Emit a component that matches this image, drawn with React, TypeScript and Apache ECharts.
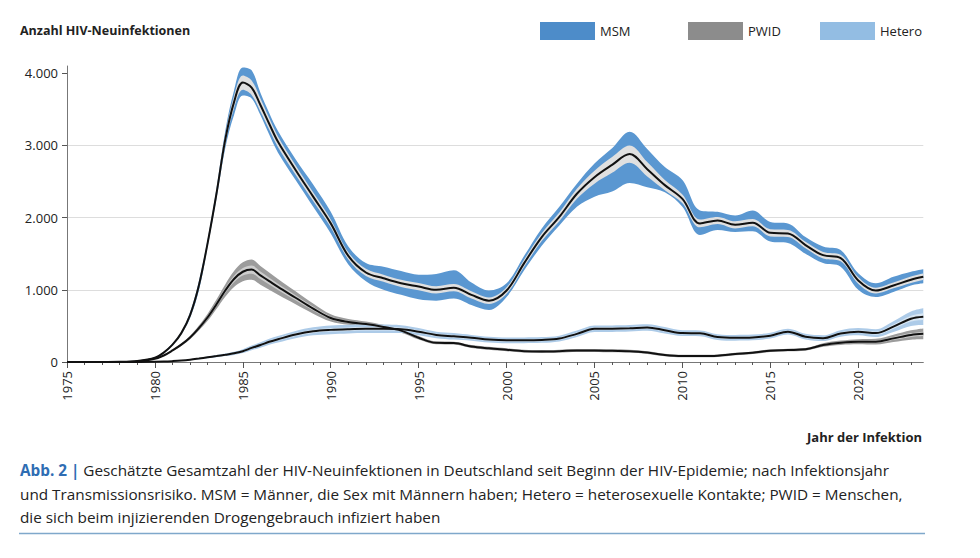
import React, { useEffect, useRef } from "react";
import * as echarts from "echarts";

// x positions (year of infection)
const years = [
  1975, 1976, 1977, 1978, 1979,
  1980, 1980.5, 1981, 1981.5, 1982, 1982.5, 1983, 1983.5, 1984, 1984.5, 1985, 1985.5, 1986, 1986.5, 1987,
  1988, 1989, 1990, 1991, 1992, 1993, 1994, 1995, 1996, 1997, 1998, 1999, 2000, 2001, 2002, 2003, 2004,
  2005, 2006, 2007, 2008, 2009, 2010, 2011, 2012, 2013, 2014, 2015, 2016, 2017, 2018, 2019, 2020, 2021,
  2022, 2023, 2023.7,
];

// MSM
const msmMid = [
  0, 0, 0, 2, 15,
  60, 130, 240, 400, 650, 1060, 1650, 2330, 3080, 3600, 3870, 3800, 3560, 3300, 3050,
  2660, 2290, 1920, 1470, 1240, 1160, 1090, 1045, 1000, 1030, 930, 850, 990, 1370, 1730, 2010, 2330,
  2560, 2730, 2880, 2670, 2450, 2260, 1920, 1960, 1900, 1930, 1790, 1780, 1620, 1480, 1440, 1130, 990,
  1060, 1140, 1180,
];
const msmLow = [
  0, 0, 0, 1, 12,
  55, 120, 225, 380, 610, 990, 1600, 2260, 2960, 3420, 3690, 3650, 3420, 3150, 2900,
  2520, 2150, 1780, 1350, 1120, 1000, 930, 870, 850, 880, 790, 720, 900, 1270, 1610, 1890, 2150,
  2290, 2360, 2480, 2420, 2350, 2150, 1760, 1830, 1800, 1810, 1670, 1650, 1500, 1370, 1320, 1000, 900,
  970, 1060, 1090,
];
const msmHigh = [
  0, 0, 0, 3, 18,
  65, 140, 255, 420, 690, 1120, 1700, 2400, 3200, 3760, 4080, 4040, 3730, 3450, 3200,
  2810, 2460, 2080, 1600, 1370, 1320, 1260, 1210, 1220, 1270, 1100, 990, 1090, 1470, 1850, 2150, 2470,
  2750, 2960, 3190, 2950, 2700, 2520, 2100, 2080, 2030, 2100, 1940, 1920, 1730, 1600, 1550, 1230, 1090,
  1180, 1250, 1285,
];
const msmCi = [
  0, 0, 0, 0, 2,
  5, 8, 12, 18, 25, 35, 45, 55, 70, 85, 100, 100, 90, 80, 75,
  65, 60, 55, 50, 50, 50, 50, 50, 50, 50, 50, 45, 45, 50, 55, 60, 70,
  90, 110, 120, 100, 70, 60, 55, 50, 50, 50, 50, 50, 45, 45, 45, 45, 40,
  40, 45, 45,
];

// PWID
const pwidMid = [
  0, 0, 0, 1, 8,
  45, 90, 160, 240, 340, 470, 620, 800, 990, 1150, 1250, 1280, 1200, 1120, 1040,
  890, 740, 610, 555, 525, 485, 435, 335, 265, 262, 215, 190, 170, 150, 145, 150, 160,
  160, 155, 150, 130, 97, 83, 83, 87, 110, 128, 157, 166, 175, 235, 267, 281, 281,
  327, 374, 390,
];
const pwidSpread = [
  0, 0, 0, 0, 1,
  4, 8, 12, 18, 25, 35, 50, 65, 85, 110, 130, 140, 130, 120, 110,
  90, 70, 50, 40, 35, 30, 30, 25, 20, 20, 20, 20, 20, 20, 20, 20, 20,
  20, 20, 20, 20, 18, 18, 18, 18, 18, 18, 18, 18, 18, 25, 30, 35, 40,
  50, 65, 75,
];
const pwidCi = [
  0, 0, 0, 0, 0,
  2, 3, 5, 7, 10, 14, 20, 26, 34, 44, 52, 56, 52, 48, 44,
  36, 28, 20, 16, 14, 12, 12, 10, 8, 8, 8, 8, 8, 8, 8, 8, 8,
  8, 8, 8, 8, 7, 7, 7, 7, 7, 7, 7, 7, 7, 10, 12, 14, 16,
  20, 26, 30,
];

// Hetero
const heteroMid = [
  0, 0, 0, 0, 0,
  3, 6, 12, 20, 32, 48, 65, 82, 100, 120, 150, 195, 235, 280, 315,
  380, 425, 445, 455, 460, 460, 455, 420, 375, 355, 335, 310, 300, 300, 305, 325, 390,
  460, 462, 468, 478, 440, 400, 398, 345, 335, 340, 365, 420, 350, 330, 395, 420, 400,
  490, 600, 628,
];
const heteroSpread = [
  0, 0, 0, 0, 0,
  1, 2, 3, 5, 7, 9, 12, 15, 18, 22, 27, 32, 38, 42, 45,
  50, 55, 60, 60, 60, 60, 55, 50, 45, 45, 40, 40, 40, 40, 40, 40, 45,
  45, 45, 45, 45, 45, 40, 40, 40, 40, 40, 40, 40, 40, 40, 45, 50, 55,
  75, 100, 115,
];
const heteroCi = [
  0, 0, 0, 0, 0,
  0, 1, 1, 2, 3, 4, 5, 6, 7, 9, 11, 13, 15, 17, 18,
  20, 22, 24, 24, 24, 24, 22, 20, 18, 18, 16, 16, 16, 16, 16, 16, 18,
  18, 18, 18, 18, 18, 16, 16, 16, 16, 16, 16, 16, 16, 16, 18, 20, 22,
  30, 40, 46,
];

const xMajorTicks = [1975, 1980, 1985, 1990, 1995, 2000, 2005, 2010, 2015, 2020];
const xMinorTicks = Array.from({ length: 49 }, (_, i) => 1975 + i);
const yTicks = [0, 1000, 2000, 3000, 4000];

const legendItems = [
  { name: "MSM", color: "#4d8cc9" },
  { name: "PWID", color: "#8c8c8c" },
  { name: "Hetero", color: "#93bde3" },
];

const FONT = '"Open Sans", "Noto Sans", sans-serif';
const SMOOTH = 0.35;

function pairs(vals: number[]) {
  return years.map((x, i) => [x, vals[i]]);
}

// value first, year second, so that stacking happens on the value (y) dimension
function valueFirst(vals: number[]) {
  return years.map((x, i) => [vals[i], x]);
}

function band(id: string, lo: number[], hi: number[], color: string, z: number) {
  return [
    {
      type: "line",
      name: id + "_base",
      stack: id,
      data: valueFirst(lo),
      encode: { x: 1, y: 0 },
      symbol: "none",
      smooth: SMOOTH,
      lineStyle: { opacity: 0, width: 0 },
      silent: true,
      z,
    },
    {
      type: "line",
      name: id,
      stack: id,
      data: valueFirst(hi.map((v, i) => v - lo[i])),
      encode: { x: 1, y: 0 },
      symbol: "none",
      smooth: SMOOTH,
      lineStyle: { opacity: 0, width: 0 },
      areaStyle: { color, opacity: 1 },
      silent: true,
      z,
    },
  ];
}

function midLine(vals: number[]) {
  return {
    type: "line",
    data: pairs(vals),
    symbol: "none",
    smooth: SMOOTH,
    lineStyle: { color: "#111", width: 2 },
    silent: true,
    z: 6,
  };
}

export default function App() {
  const ref = useRef<HTMLDivElement>(null);
  useEffect(() => {
    if (!ref.current) return;
    const chart = echarts.init(ref.current, undefined, { renderer: "svg" });

    const lo = (m: number[], w: number[]) => m.map((v, i) => Math.max(0, v - w[i]));
    const hi = (m: number[], w: number[]) => m.map((v, i) => v + w[i]);

    const series: any[] = [
      ...band("pwidOuter", lo(pwidMid, pwidSpread), hi(pwidMid, pwidSpread), "#9c9c9c", 2),
      ...band("heteroOuter", lo(heteroMid, heteroSpread), hi(heteroMid, heteroSpread), "#adcbe8", 2),
      ...band("msmOuter", msmLow, msmHigh, "#5a97d1", 2),
      ...band("pwidInner", lo(pwidMid, pwidCi), hi(pwidMid, pwidCi), "#cdcdcd", 3),
      ...band("heteroInner", lo(heteroMid, heteroCi), hi(heteroMid, heteroCi), "#d8e6f3", 3),
      ...band("msmInner", lo(msmMid, msmCi), hi(msmMid, msmCi), "#e0e0e0", 3),
      midLine(pwidMid),
      midLine(heteroMid),
      midLine(msmMid),
    ];

    const capFont = `15.3px ${FONT}`;
    const graphic: any[] = [
      {
        type: "text",
        x: 20,
        y: 30,
        style: {
          text: "Anzahl HIV-Neuinfektionen",
          font: `bold 12.5px ${FONT}`,
          fill: "#222",
          textVerticalAlign: "middle",
        },
      },
      {
        type: "text",
        x: 922,
        y: 437,
        style: {
          text: "Jahr der Infektion",
          font: `bold 13px ${FONT}`,
          fill: "#222",
          textAlign: "right",
          textVerticalAlign: "middle",
        },
      },
      {
        type: "text",
        x: 20,
        y: 470,
        style: {
          text: "{a|Abb. 2 |} Geschätzte Gesamtzahl der HIV-Neuinfektionen in Deutschland seit Beginn der HIV-Epidemie; nach Infektionsjahr",
          font: capFont,
          fill: "#222",
          textVerticalAlign: "middle",
          rich: {
            a: { fill: "#2f6db3", fontWeight: "bold", fontSize: 15.3, fontFamily: FONT },
          },
        },
      },
      {
        type: "text",
        x: 20,
        y: 494,
        style: {
          text: "und Transmissionsrisiko. MSM = Männer, die Sex mit Männern haben; Hetero = heterosexuelle Kontakte; PWID = Menschen,",
          font: capFont,
          fill: "#222",
          textVerticalAlign: "middle",
        },
      },
      {
        type: "text",
        x: 20,
        y: 517,
        style: {
          text: "die sich beim injizierenden Drogengebrauch infiziert haben",
          font: capFont,
          fill: "#222",
          textVerticalAlign: "middle",
        },
      },
      {
        type: "line",
        shape: { x1: 19, y1: 533.5, x2: 925, y2: 533.5 },
        style: { stroke: "#7fa8cb", lineWidth: 1.5 },
      },
    ];

    const legendX = [540, 688, 820];
    legendItems.forEach((item, i) => {
      graphic.push({
        type: "rect",
        shape: { x: legendX[i], y: 22, width: 55, height: 18 },
        style: { fill: item.color },
      });
      graphic.push({
        type: "text",
        x: legendX[i] + 60,
        y: 31,
        style: {
          text: item.name,
          font: `13px ${FONT}`,
          fill: "#222",
          textVerticalAlign: "middle",
        },
      });
    });

    chart.setOption({
      animation: false,
      backgroundColor: "#fff",
      grid: { left: 67, right: 56.7, top: 66, bottom: 196, containLabel: false },
      xAxis: [
        {
          type: "value",
          min: 1975,
          max: 2023.7,
          position: "bottom",
          axisLine: { show: true, lineStyle: { color: "#777", width: 1 } },
          axisTick: { show: true, customValues: xMajorTicks, length: 6, lineStyle: { color: "#555" } },
          axisLabel: {
            customValues: xMajorTicks,
            rotate: 90,
            margin: 9,
            formatter: (v: number) => String(v),
            fontSize: 13,
            color: "#222",
            fontFamily: FONT,
          },
          splitLine: { show: false },
        },
        {
          type: "value",
          min: 1975,
          max: 2023.7,
          position: "bottom",
          axisLine: { show: false },
          axisTick: { show: true, customValues: xMinorTicks, length: 3, lineStyle: { color: "#555" } },
          axisLabel: { show: false },
          splitLine: { show: false },
        },
      ],
      yAxis: {
        type: "value",
        min: 0,
        max: 4100,
        interval: 1000,
        axisLine: { show: true, lineStyle: { color: "#777", width: 1 } },
        axisTick: { show: true, customValues: yTicks, length: 5, lineStyle: { color: "#555" } },
        axisLabel: {
          customValues: yTicks,
          margin: 9,
          formatter: (v: number) => (v === 0 ? "0" : `${v / 1000}.000`),
          fontSize: 13,
          color: "#222",
          fontFamily: FONT,
        },
        splitLine: {
          show: true,
          showMaxLine: false,
          lineStyle: {
            color: ["#dddddd", "#dddddd", "#dddddd", "#dddddd", "#dddddd", "rgba(0,0,0,0)"],
            width: 1,
          },
        },
      },
      series,
      graphic,
    });

    return () => {
      chart.dispose();
    };
  }, []);

  return (
    <div
      ref={ref}
      style={{ position: "fixed", left: 0, top: 0, width: 980, height: 558, background: "#fff" }}
    />
  );
}
